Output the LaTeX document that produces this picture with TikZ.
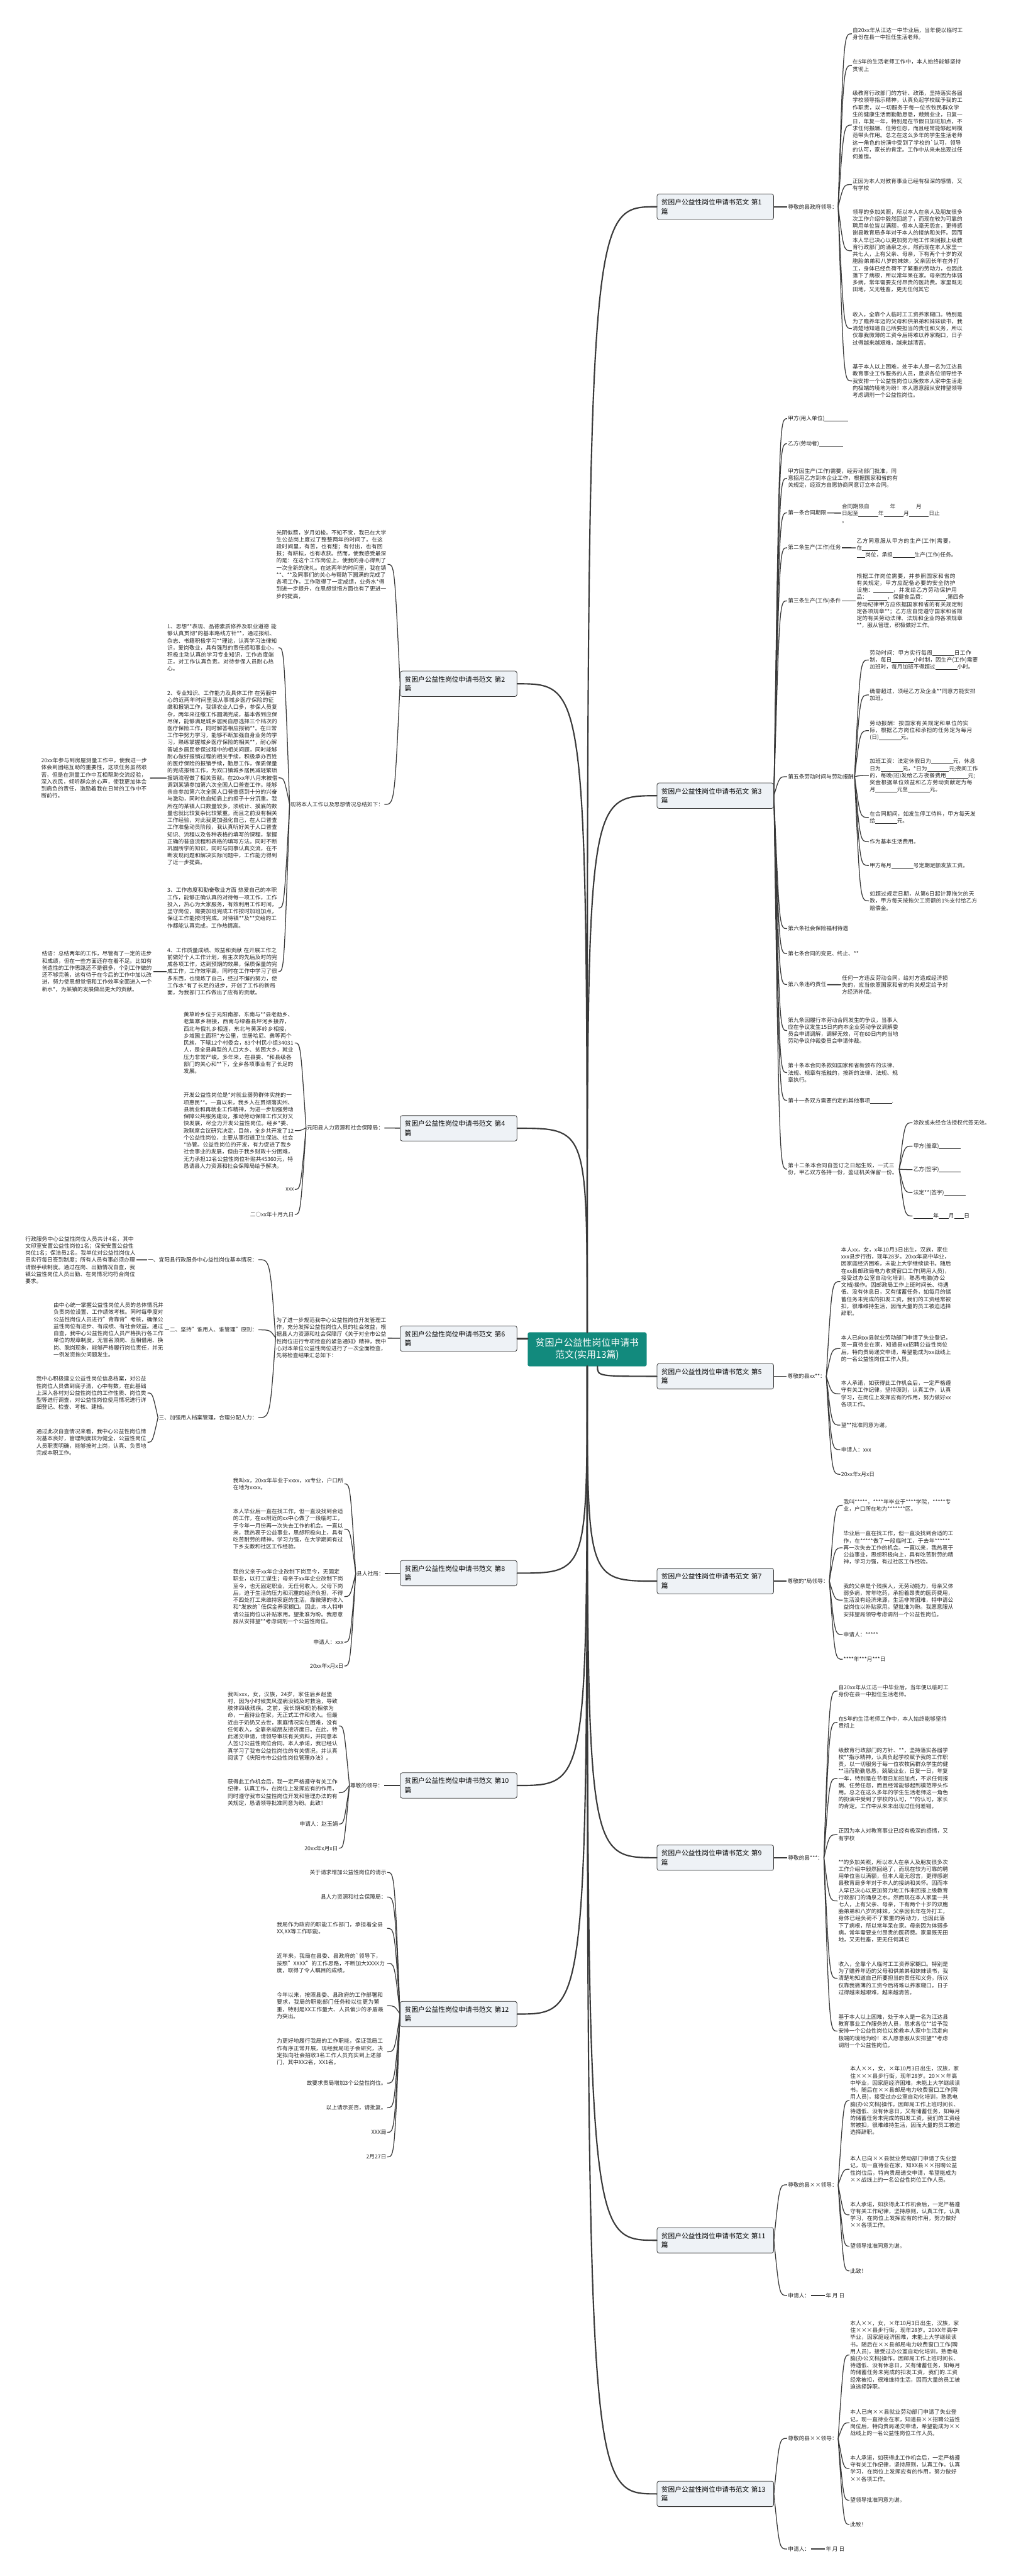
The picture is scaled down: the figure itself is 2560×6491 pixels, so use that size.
\documentclass[tikz,border=0pt]{standalone}
\usepackage{fontspec}
\setmainfont{Noto Sans CJK SC}
\XeTeXlinebreaklocale "zh"
\XeTeXlinebreakskip=0pt plus 1pt
\usetikzlibrary{calc}

\definecolor{rootteal}{HTML}{128A7D}
\definecolor{boxfill}{HTML}{EEF2F6}
\definecolor{linegray}{HTML}{3A3A3A}
\newcommand{\blankln}[1]{\rule[-1.5pt]{#1pt}{0.6pt}}

\begin{document}
\begin{tikzpicture}[x=1pt, y=-1pt,
    rootbox/.style={rectangle, rounded corners=4pt, fill=rootteal, draw=rootteal, text=white,
        font=\fontsize{23.7}{30}\selectfont, align=center, minimum width=299pt, minimum height=85pt},
    pianbox/.style={rectangle, rounded corners=5pt, fill=boxfill, draw=linegray, line width=1.3pt,
        font=\fontsize{17}{23}\selectfont, text width=272pt, align=left, minimum height=64pt, inner xsep=11pt},
    txt/.style={font=\fontsize{13.8}{17.8}\selectfont, inner sep=2pt, text=black!85},
    leaftxt/.style={txt, text width=278pt, align=left},
    trunk/.style={to path={.. controls (\tikztostart |- \tikztotarget) .. (\tikztotarget)}},
    rfan/.style={to path={.. controls ($(\tikztostart |- \tikztotarget)+(14,0)$) .. (\tikztotarget)}},
    lfan/.style={to path={.. controls ($(\tikztostart |- \tikztotarget)+(-14,0)$) .. (\tikztotarget)}}]

\useasboundingbox [fill=white] (0,0) rectangle (2560,6491);

\node (main) at (1480, 3400) [rootbox] {贫困户公益性岗位申请书\\范文(实用13篇)};
\coordinate (mainsr) at ($(main.south)+(26,0)$);

% ---------- right side ----------
\node (p1) at (1803, 521) [pianbox] {贫困户公益性岗位申请书范文 第1\\篇};
\node (p1t) at (1984, 521) [txt, anchor=west] {尊敬的县政府领导：};
\node (p1a) at (2147, 85) [leaftxt, anchor=west] {自20xx年从江达一中毕业后，当年便以临时工身份在县一中担任生活老师。};
\node (p1b) at (2147, 165) [leaftxt, anchor=west] {在5年的生活老师工作中，本人始终能够坚持贯彻上};
\node (p1c) at (2147, 315) [leaftxt, anchor=west] {级教育行政部门的方针、政策，坚持落实各届学校领导指示精神，认真负起学校赋予我的工作职责，以一切服务于每一位农牧民群众学生的健康生活而勤勤恳恳，兢兢业业，日复一日，年复一年，特别是在节假日加班加点，不求任何报酬、任劳任怨，而且经常能够起到模范带头作用。总之在这么多年的学生生活老师这一角色的扮演中受到了学校的\textasciigrave 认可，领导的认可，家长的肯定。工作中从来未出现过任何差错。};
\node (p1d) at (2147, 465) [leaftxt, anchor=west] {正因为本人对教育事业已经有极深的感情，又有学校};
\node (p1e) at (2147, 632) [leaftxt, anchor=west] {领导的多加关照，所以本人在亲人及朋友很多次工作介绍中毅然回绝了，而现在较为可靠的聘用单位皆以满额，但本人毫无怨言，更得感谢县教育局多年对于本人的接纳和关怀。因而本人早已决心以更加努力地工作来回报上级教育行政部门的涌泉之水。然而现在本人家里一共七人，上有父亲、母亲，下有两个十岁的双胞胎弟弟和八岁的妹妹，父亲因长年在外打工，身体已经负荷不了繁重的劳动力，也因此落下了病根，所以常年呆在家。母亲因为体弱多病，常年需要支付昂贵的医药费。家里既无田地，又无牲畜，更无任何其它};
\node (p1f) at (2147, 828) [leaftxt, anchor=west] {收入，全靠个人临时工工资养家糊口。特别是为了赡养年迈的父母和供弟弟和妹妹读书，我清楚地知道自己所要担当的责任和义务，所以仅靠我微薄的工资今后将难以养家糊口，日子过得越来越艰难，越来越清苦。};
\node (p1g) at (2147, 960) [leaftxt, anchor=west] {基于本人以上困难，处于本人是一名为江达县教育事业工作服务的人员，恳求各位领导给予我安排一个公益性岗位以挽救本人家中生活走向极端的境地为盼！本人愿意服从安排望领导考虑调剂一个公益性岗位。};

\node (p3) at (1803, 2005) [pianbox] {贫困户公益性岗位申请书范文 第3\\篇};
\node (p3a) at (1984, 1055) [txt, anchor=west] {甲方(用人单位)\blankln{60}};
\node (p3b) at (1984, 1118) [txt, anchor=west] {乙方(劳动者)\blankln{60}};
\node (p3c) at (1984, 1205) [leaftxt, anchor=west] {甲方因生产(工作)需要，经劳动部门批准，同意招用乙方到本企业工作，根据国家和省的有关规定，经双方自愿协商同意订立本合同。};
\node (p3d) at (1984, 1292) [txt, anchor=west] {第一条合同期限};
\node (p3d1) at (2120, 1294) [leaftxt, anchor=west] {合同期限自\hspace{52pt}年\hspace{52pt}月\\日起至\blankln{50}年\blankln{50}月\blankln{50}日止\\。};
\node (p3e) at (1984, 1380) [txt, anchor=west] {第二条生产(工作)任务};
\node (p3e1) at (2157, 1381) [leaftxt, anchor=west, text width=275pt] {乙方同意服从甲方的生产(工作)需要，在\blankln{40}\\\blankln{22}岗位，承担\blankln{55}生产(工作)任务。};
\node (p3f) at (1984, 1514) [txt, anchor=west] {第三条生产(工作)条件};
\node (p3f1) at (2157, 1514) [leaftxt, anchor=west, text width=275pt] {根据工作岗位需要，并参照国家和省的有关规定，甲方应配备必要的安全防护设施：\blankln{50}，并发给乙方劳动保护用品：\blankln{50}，保健食品费：\blankln{50}.第四条劳动纪律甲方应依据国家和省的有关规定制定各项规章**；乙方应自觉遵守国家和省规定的有关劳动法律、法规和企业的各项规章**，服从管理，积极做好工作。};
\node (p3g) at (1984, 1957) [txt, anchor=west] {第五条劳动时间与劳动报酬};
\node (p3g1) at (2190, 1663) [leaftxt, anchor=west, text width=275pt] {劳动时间：甲方实行每周\blankln{55}日工作制，每日\blankln{55}小时制，因生产(工作)需要加班时，每月加班不得超过\blankln{55}小时。};
\node (p3g2) at (2190, 1751) [leaftxt, anchor=west, text width=275pt] {确需超过，须经乙方及企业**同意方能安排加班。};
\node (p3g3) at (2190, 1841) [leaftxt, anchor=west, text width=275pt] {劳动报酬：按国家有关规定和单位的实际，根据乙方岗位和承担的任务定为每月(日)\blankln{55}元。};
\node (p3g4) at (2190, 1954) [leaftxt, anchor=west, text width=275pt] {加班工资：法定休假日为\blankln{55}元，休息日为\blankln{55}元，*日为\blankln{55}元;夜间工作的，每晚(班)发给乙方夜餐费用\blankln{55}元;奖金根据单位效益和乙方劳动贡献定为每月\blankln{55}元至\blankln{55}元。};
\node (p3g5) at (2190, 2060) [leaftxt, anchor=west, text width=275pt] {在合同期间，如发生停工待料，甲方每天发给\blankln{55}元。};
\node (p3g6) at (2190, 2121) [txt, anchor=west] {作为基本生活费用。};
\node (p3g7) at (2190, 2181) [txt, anchor=west] {甲方每月\blankln{55}号定期足额发放工资。};
\node (p3g8) at (2190, 2270) [leaftxt, anchor=west, text width=275pt] {如超过规定日期，从第6日起计算拖欠的天数，甲方每天按拖欠工资额的1\%支付给乙方赔偿金。};
\node (p3h) at (1984, 2340) [txt, anchor=west] {第六条社会保险福利待遇};
\node (p3i) at (1984, 2403) [txt, anchor=west] {第七条合同的变更、终止、**};
\node (p3j) at (1984, 2481) [txt, anchor=west] {第八条违约责任};
\node (p3j1) at (2120, 2482) [leaftxt, anchor=west, text width=275pt] {任何一方违反劳动合同，给对方造成经济损失的，应当依照国家和省的有关规定给予对方经济补偿。};
\node (p3k) at (1984, 2597) [leaftxt, anchor=west] {第九条因履行本劳动合同发生的争议，当事人应在争议发生15日内向本企业劳动争议调解委员会申请调解，调解无效，可在60日内向当地劳动争议仲裁委员会申请仲裁。};
\node (p3l) at (1984, 2703) [leaftxt, anchor=west] {第十条本合同条款如国家和省新颁布的法律、法规、规章有抵触的，按新的法律、法规、规章执行。};
\node (p3m) at (1984, 2773) [txt, anchor=west] {第十一条双方需要约定的其他事项\blankln{55}.};
\node (p3n) at (1984, 2946) [leaftxt, anchor=west] {第十二条本合同自签订之日起生效，一式三份，甲乙双方各持一份，鉴证机关保留一份。};
\node (p3n1) at (2300, 2829) [txt, anchor=west] {涂改或未经合法授权代签无效。};
\node (p3n2) at (2300, 2888) [txt, anchor=west] {甲方(盖章)\blankln{55}};
\node (p3n3) at (2300, 2947) [txt, anchor=west] {乙方(签字)\blankln{55}};
\node (p3n4) at (2300, 3005) [txt, anchor=west] {法定**(签字)\blankln{55}};
\node (p3n5) at (2300, 3064) [txt, anchor=west] {\blankln{50}年\blankln{25}月\blankln{25}日};

\node (p5) at (1803, 3468) [pianbox] {贫困户公益性岗位申请书范文 第5\\篇};
\node (p5t) at (1983, 3468) [txt, anchor=west] {尊敬的县xx**：};
\node (p5a) at (2118, 3229) [leaftxt, anchor=west] {本人xx，女，x年10月3日出生，汉族，家住xxx县步行街，现年28岁。20xx年高中毕业，因家庭经济困难，未能上大学继续读书。随后在xx县邮政局电力收费窗口工作(聘用人员)，接受过办公室自动化培训，熟悉电脑(办公文档)操作。因邮政局工作上班时间长、待遇低、没有休息日，又有储蓄任务，如每月的储蓄任务未完成的扣发工资，我们的工资经常被扣，很难维持生活，因而大量的员工被迫选择辞职。};
\node (p5b) at (2118, 3398) [leaftxt, anchor=west] {本人已向xx县就业劳动部门申请了失业登记，现一直待业在家，知道县xx招聘公益性岗位后，特向贵局递交申请，希望能成为xx战线上的一名公益性岗位工作人员。};
\node (p5c) at (2118, 3512) [leaftxt, anchor=west] {本人承诺，如获得此工作机会后，一定严格遵守有关工作纪律，坚持原则，认真工作，认真学习，在岗位上发挥应有的作用，努力做好xx各项工作。};
\node (p5d) at (2118, 3591) [txt, anchor=west] {望**批准同意为谢。};
\node (p5e) at (2118, 3653) [txt, anchor=west] {申请人：xxx};
\node (p5f) at (2118, 3715) [txt, anchor=west] {20xx年x月x日};

\node (p7) at (1803, 3984) [pianbox] {贫困户公益性岗位申请书范文 第7\\篇};
\node (p7t) at (1983, 3984) [txt, anchor=west] {尊敬的*局领导：};
\node (p7a) at (2124, 3793) [leaftxt, anchor=west] {我叫*****，****年毕业于****学院，*****专业，户口所在地为*******区。};
\node (p7b) at (2124, 3900) [leaftxt, anchor=west] {毕业后一直在找工作，但一直没找到合适的工作，在*****做了一段临时工，于去年******再一次失去工作的机会。一直以来，我热衷于公益事业，思想积极向上，具有吃苦耐劳的精神，学习力强，有过社区工作经验。};
\node (p7c) at (2124, 4032) [leaftxt, anchor=west] {我的父亲是个残疾人，无劳动能力，母亲又体弱多病，常年吃药，承担着昂贵的医药费用，生活没有经济来源，生活非常困难，特申请公益岗位以补贴家用。望批准为盼。我愿意服从安排望局领导考虑调剂一个公益性岗位。};
\node (p7d) at (2124, 4119) [txt, anchor=west] {申请人：*****};
\node (p7e) at (2124, 4181) [txt, anchor=west] {****年***月***日};

\node (p9) at (1803, 4681) [pianbox] {贫困户公益性岗位申请书范文 第9\\篇};
\node (p9t) at (1984, 4681) [txt, anchor=west] {尊敬的县***：};
\node (p9a) at (2111, 4261) [leaftxt, anchor=west] {自20xx年从江达一中毕业后，当年便以临时工身份在县一中担任生活老师。};
\node (p9b) at (2111, 4340) [leaftxt, anchor=west] {在5年的生活老师工作中，本人始终能够坚持贯彻上};
\node (p9c) at (2111, 4481) [leaftxt, anchor=west] {级教育行政部门的方针、**，坚持落实各届学校**指示精神，认真负起学校赋予我的工作职责，以一切服务于每一位农牧民群众学生的健**活而勤勤恳恳，兢兢业业，日复一日，年复一年，特别是在节假日加班加点，不求任何报酬、任劳任怨，而且经常能够起到模范带头作用。总之在这么多年的学生生活老师这一角色的扮演中受到了学校的认可，**的认可，家长的肯定。工作中从来未出现过任何差错。};
\node (p9d) at (2111, 4623) [leaftxt, anchor=west] {正因为本人对教育事业已经有极深的感情，又有学校};
\node (p9e) at (2111, 4790) [leaftxt, anchor=west] {**的多加关照，所以本人在亲人及朋友很多次工作介绍中毅然回绝了，而现在较为可靠的聘用单位皆以满额，但本人毫无怨言，更得感谢县教育局多年对于本人的接纳和关怀。因而本人早已决心以更加努力地工作来回报上级教育行政部门的涌泉之水。然而现在本人家里一共七人，上有父亲、母亲，下有两个十岁的双胞胎弟弟和八岁的妹妹，父亲因长年在外打工，身体已经负荷不了繁重的劳动力，也因此落下了病根，所以常年呆在家。母亲因为体弱多病，常年需要支付昂贵的医药费。家里既无田地，又无牲畜，更无任何其它};
\node (p9f) at (2111, 4985) [leaftxt, anchor=west] {收入，全靠个人临时工工资养家糊口。特别是为了赡养年迈的父母和供弟弟和妹妹读书，我清楚地知道自己所要担当的责任和义务，所以仅靠我微薄的工资今后将难以养家糊口，日子过得越来越艰难，越来越清苦。};
\node (p9g) at (2111, 5118) [leaftxt, anchor=west] {基于本人以上困难，处于本人是一名为江达县教育事业工作服务的人员，恳求各位**给予我安排一个公益性岗位以挽救本人家中生活走向极端的境地为盼！本人愿意服从安排望**考虑调剂一个公益性岗位。};

\node (p11) at (1803, 5645) [pianbox] {贫困户公益性岗位申请书范文 第11\\篇};
\node (p11t) at (1984, 5505) [txt, anchor=west] {尊敬的县××领导：};
\node (p11s) at (1984, 5784) [txt, anchor=west] {申请人：};
\node (p11d) at (2079, 5784) [txt, anchor=west] {年\ 月\ 日};
\node (p11a) at (2141, 5293) [leaftxt, anchor=west] {本人××，女，×年10月3日出生，汉族，家住×××县步行街，现年28岁。20××年高中毕业，因家庭经济困难，未能上大学继续读书。随后在××县邮局电力收费窗口工作(聘用人员)，接受过办公室自动化培训，熟悉电脑(办公文档)操作。因邮局工作上班时间长、待遇低、没有休息日，又有储蓄任务，如每月的储蓄任务未完成的扣发工资，我们的工资经常被扣，很难维持生活，因而大量的员工被迫选择辞职。};
\node (p11b) at (2141, 5466) [leaftxt, anchor=west] {本人已向××县就业劳动部门申请了失业登记，现一直待业在家，知XX县××招聘公益性岗位后，特向贵局递交申请，希望能成为××战线上的一名公益性岗位工作人员。};
\node (p11c) at (2141, 5581) [leaftxt, anchor=west] {本人承诺，如获得此工作机会后，一定严格遵守有关工作纪律，坚持原则，认真工作，认真学习，在岗位上发挥应有的作用，努力做好××各项工作。};
\node (p11e) at (2141, 5660) [txt, anchor=west] {望领导批准同意为谢。};
\node (p11f) at (2141, 5722) [txt, anchor=west] {此致！};

\node (p13) at (1803, 6284) [pianbox] {贫困户公益性岗位申请书范文 第13\\篇};
\node (p13t) at (1984, 6144) [txt, anchor=west] {尊敬的县××领导：};
\node (p13s) at (1984, 6423) [txt, anchor=west] {申请人：};
\node (p13d) at (2079, 6423) [txt, anchor=west] {年\ 月\ 日};
\node (p13a) at (2141, 5934) [leaftxt, anchor=west] {本人××，女，×年10月3日出生，汉族，家住×××县步行街，现年28岁。20XX年高中毕业，因家庭经济困难，未能上大学继续读书。随后在××县邮局电力收费窗口工作(聘用人员)，接受过办公室自动化培训，熟悉电脑(办公文档)操作。因邮局工作上班时间长、待遇低、没有休息日，又有储蓄任务，如每月的储蓄任务未完成的扣发工资，我们的.工资经常被扣，很难维持生活，因而大量的员工被迫选择辞职。};
\node (p13b) at (2141, 6105) [leaftxt, anchor=west] {本人已向××县就业劳动部门申请了失业登记，现一直待业在家，知道县××招聘公益性岗位后，特向贵局递交申请，希望能成为××战线上的一名公益性岗位工作人员。};
\node (p13c) at (2141, 6220) [leaftxt, anchor=west] {本人承诺，如获得此工作机会后，一定严格遵守有关工作纪律，坚持原则，认真工作，认真学习，在岗位上发挥应有的作用，努力做好××各项工作。};
\node (p13e) at (2141, 6300) [txt, anchor=west] {望领导批准同意为谢。};
\node (p13f) at (2141, 6361) [txt, anchor=west] {此致！};

% ---------- left side ----------
\node (p2) at (1156, 1723) [pianbox] {贫困户公益性岗位申请书范文 第2\\篇};
\node (p2a) at (977, 1422) [leaftxt, anchor=east] {光阴似箭，岁月如梭。不知不觉，我已在大学生公益岗上度过了整整两年的时间了。在这段时间里，有苦，也有甜；有付出，也有回报；有耕耘，也有收获。然而，使我感受最深的是：在这个工作岗位上，使我的身心得到了一次全新的洗礼。在这两年的时间里，我在镇**、**及同事们的关心与帮助下圆满的完成了各项工作，工作取得了一定成绩，业务水*得到进一步提升，在思想觉悟方面也有了更进一步的提高，};
\node (p2t) at (969, 2027) [txt, anchor=east] {现将本人工作以及思想情况总结如下：};
\node (p2t1) at (702, 1632) [leaftxt, anchor=east] {1、思想**表现、品德素质修养及职业道德 能够认真贯彻*的基本路线方针**，通过报纸、杂志、书籍积极学习**理论，认真学习法律知识，爱岗敬业，具有强烈的责任感和事业心，积极主动认真的学习专业知识，工作态度端正，对工作认真负责。对待参保人员耐心热心。};
\node (p2t2) at (702, 1960) [leaftxt, anchor=east] {2、专业知识、工作能力及具体工作 在劳服中心的近两年时间里我从事城乡医疗保险的征缴和报销工作，我镇农业人口多，参保人员复杂，两年来征缴工作圆满完成，基本做到应保尽保，能够满足城乡居民自愿选择三个档次的医疗保险工作，同时解答相应报销**。在日常工作中努力学习，能够不断加强自身业务的学习，熟练掌握城乡医疗保险的相关**，耐心解答城乡居民参保过程中的相关问题，同时能够耐心做好报销过程的相关手续，积极承办百姓的医疗保险的报销手续，勤恳工作，保质保量的完成报销工作，为双口镇城乡居民减轻繁琐报销流程做了相关贡献。在20xx年八月末被借调到某镇参加第六次全国人口普查工作。能够亲自参加第六次全国人口普查感到十分的兴奋与激动，同时也自知肩上的担子十分沉重。我所在的某镇人口数量较多，须统计、摸底的数量也就比较复杂比较繁重。而且之前没有相关工作经验，对此我更加强化自己，在人口普查工作准备动员阶段，我认真听好关于人口普查知识、流程以及各种表格的填写的课程，掌握正确的普查流程和表格的填写方法。同时不断巩固所学的知识，同时与同事认真交流，在不断发现问题和解决实际问题中，工作能力得到了近一步提高。};
\node (p2t2a) at (378, 1961) [leaftxt, anchor=east, text width=272pt] {20xx年参与到房屋测量工作中，使我进一步体会到团结互助的重要性，这项任务虽然艰苦，但是在测量工作中互相帮助交流经验，深入农民，倾听群众的心声，使我更加体会到肩负的责任，激励着我在日常的工作中不断前行。};
\node (p2t3) at (702, 2288) [leaftxt, anchor=east] {3、工作态度和勤奋敬业方面 热爱自己的本职工作，能够正确认真的对待每一项工作，工作投入，热心为大家服务，有效利用工作时间，坚守岗位，需要加班完成工作按时加班加点，保证工作能按时完成。对待镇**及**交给的工作都能认真完成，工作热情高。};
\node (p2t4) at (702, 2448) [leaftxt, anchor=east] {4、工作质量成绩、效益和贡献 在开展工作之前做好个人工作计划，有主次的先后及时的完成各项工作，达到预期的效果，保质保量的完成工作，工作效率高，同时在工作中学习了很多东西，也锻炼了自己，经过不懈的努力，使工作水*有了长足的进步，开创了工作的新局面，为我部门工作做出了应有的贡献。};
\node (p2t4a) at (386, 2448) [leaftxt, anchor=east] {结语：总结两年的工作，尽管有了一定的进步和成绩，但在一些方面还存在着不足。比如有创造性的工作思路还不是很多，个别工作做的还不够完善，这有待于在今后的工作中加以改进，努力使思想觉悟和工作效率全面进入一个新水*，为某镇的发展做出更大的贡献。};

\node (p4) at (1156, 2843) [pianbox] {贫困户公益性岗位申请书范文 第4\\篇};
\node (p4t) at (969, 2842) [txt, anchor=east] {元阳县人力资源和社会保障局：};
\node (p4a) at (743, 2628) [leaftxt, anchor=east] {黄草岭乡位于元阳南部，东南与**县老勐乡、老集寨乡相接，西南与绿春县坪河乡接界，西北与俄扎乡相连，东北与黄茅岭乡相接，乡域国土面积*方公里，世居哈尼、彝等两个民族，下辖12个村委会，83个村民小组34031人，是全县典型的人口大乡、贫困大乡，就业压力非常严峻。多年来，在县委、*和县级各部门的关心和**下，全乡各项事业有了长足的发展。};
\node (p4b) at (743, 2849) [leaftxt, anchor=east] {开发公益性岗位是*对就业弱势群体实施的一项惠民**。一直以来，我乡人在贯彻落实州、县就业和再就业工作精神，为进一步加强劳动保障公共服务建设，推动劳动保障工作又好又快发展，尽全力开发公益性岗位。经乡*委、政联席会议研究决定，目前，全乡共开发了12个公益性岗位，主要从事街道卫生保洁、社会*协管。公益性岗位的开发，有力促进了我乡社会事业的发展，但由于我乡财政十分困难，无力承担12名公益性岗位补贴共45360元，特恳请县人力资源和社会保障局给予解决。};
\node (p4c) at (743, 2997) [txt, anchor=east] {xxx};
\node (p4d) at (743, 3060) [txt, anchor=east] {二○xx年十月九日};

\node (p6) at (1156, 3373) [pianbox] {贫困户公益性岗位申请书范文 第6\\篇};
\node (p6t) at (977, 3371) [leaftxt, anchor=east] {为了进一步规范我中心公益性岗位开发管理工作，充分发挥公益性岗位人员的社会效益，根据县人力资源和社会保障厅《关于对全市公益性岗位进行专项检查的紧急通知》精神，我中心对本单位公益性岗位进行了一次全面检查，先将检查结果汇总如下：};
\node (p6t1) at (651, 3174) [txt, anchor=east] {一、宜阳县行政服务中心益性岗位基本情况：};
\node (p6t1a) at (344, 3175) [leaftxt, anchor=east] {行政服务中心公益性岗位人员共计4名，其中文印室安置公益性岗位1名；保安安置公益性岗位1名；保洁员2名。我单位对公益性岗位人员实行每日签到制度；所有人员有事必须办理请假手续制度。通过在岗、出勤情况自查，我镇公益性岗位人员出勤、在岗情况均符合岗位要求。};
\node (p6t2) at (651, 3351) [txt, anchor=east] {二、坚持"谁用人、谁管理"原则：};
\node (p6t2a) at (415, 3351) [leaftxt, anchor=east] {由中心统一掌握公益性岗位人员的总体情况并负责岗位设置、工作绩效考核。同时每季度对公益性岗位人员进行"背靠背"考核，确保公益性岗位有进步、有成绩、有社会效益。通过自查，我中心公益性岗位人员严格执行各工作单位的规章制度，无冒名顶岗、互相借用、换岗、脱岗现象，能够严格履行岗位责任，并无一例发资拖欠问题发生。};
\node (p6t3) at (651, 3572) [txt, anchor=east] {三、加强用人档案管理，合理分配人力：};
\node (p6t3a) at (372, 3510) [leaftxt, anchor=east] {我中心积极建立公益性岗位信息档案，对公益性岗位人员做到底子清，心中有数，在此基础上深入各村对公益性岗位的工作性质、岗位类型等进行调查，对公益性岗位使用情况进行详细登记、检查、考核、建档。};
\node (p6t3b) at (372, 3634) [leaftxt, anchor=east] {通过此次自查情况来看，我中心公益性岗位情况基本良好，管理制度较为健全，公益性岗位人员职责明确，能够按时上岗，认真、负责地完成本职工作。};

\node (p8) at (1156, 3964) [pianbox] {贫困户公益性岗位申请书范文 第8\\篇};
\node (p8t) at (970, 3965) [txt, anchor=east] {县人社局：};
\node (p8a) at (868, 3739) [leaftxt, anchor=east] {我叫xx，20xx年毕业于xxxx，xx专业，户口所在地为xxxx。};
\node (p8b) at (868, 3853) [leaftxt, anchor=east] {本人毕业后一直在找工作，但一直没找到合适的工作，在xx附近的xx中心做了一段临时工，于今年一月份再一次失去工作的机会。一直以来，我热衷于公益事业，思想积极向上，具有吃苦耐劳的精神，学习力强，在大学期间有过下乡支教和社区工作经验。};
\node (p8c) at (868, 4023) [leaftxt, anchor=east] {我的父亲于xx年企业改制下岗至今，无固定职业，以打工谋生；母亲于xx年企业改制下岗至今，也无固定职业，无任何收入。父母下岗后，迫于生活的压力和沉重的经济负担，不得不四处打工来维持家庭的生活，靠微薄的收入和*发放的\textasciigrave 低保金养家糊口。因此，本人特申请公益岗位以补贴家用。望批准为盼。我愿意服从安排望**考虑调剂一个公益性岗位。};
\node (p8d) at (868, 4138) [txt, anchor=east] {申请人：xxx};
\node (p8e) at (868, 4198) [txt, anchor=east] {20xx年x月x日};

\node (p10) at (1156, 4499) [pianbox] {贫困户公益性岗位申请书范文 第10\\篇};
\node (p10t) at (968, 4499) [txt, anchor=east] {尊敬的领导：};
\node (p10a) at (854, 4349) [leaftxt, anchor=east] {我叫xxx，女，汉族，24岁，家住后乡赵堡村，因为小时候类风湿病没钱及时救治，导致肢体四级残疾。之前，我长期和奶奶相依为命，一直待业在家，无正式工作和收入。但最近由于奶奶又去世，家庭情况实在困难，没有任何收入，全靠亲戚朋友接济度日。在此，特此递交申请，请领导审核有关资料，并同意本人签订公益性岗位合同。本人承诺，我已经认真学习了我市公益性岗位的有关情况，并认真阅读了《庆阳市市公益性岗位管理办法》。};
\node (p10b) at (854, 4517) [leaftxt, anchor=east] {获得此工作机会后，我一定严格遵守有关工作纪律，认真工作，在岗位上发挥应有的作用，同时遵守我市公益性岗位开发和管理办法的有关规定，恳请领导批准同意为盼。此致！};
\node (p10c) at (854, 4596) [txt, anchor=east] {申请人：赵玉娟};
\node (p10d) at (854, 4657) [txt, anchor=east] {20xx年x月x日};

\node (p12) at (1156, 5075) [pianbox] {贫困户公益性岗位申请书范文 第12\\篇};
\node (p12a) at (976, 4718) [txt, anchor=east] {关于请求增加公益性岗位的请示};
\node (p12b) at (976, 4780) [txt, anchor=east] {县人力资源和社会保障局：};
\node (p12c) at (976, 4859) [leaftxt, anchor=east, text width=276pt] {我局作为政府的职能工作部门，承担着全县XX,XX等工作职能。};
\node (p12d) at (976, 4947) [leaftxt, anchor=east, text width=276pt] {近年来，我局在县委、县政府的\textasciigrave 领导下，按照"XXXX"的工作思路，不断加大XXXX力度，取得了令人瞩目的成绩。};
\node (p12e) at (976, 5054) [leaftxt, anchor=east, text width=276pt] {今年以来，按照县委、县政府的工作部署和要求，我局的职能部门任务较以往更为繁重，特别是XX工作量大、人员偏少的矛盾最为突出。};
\node (p12f) at (976, 5170) [leaftxt, anchor=east, text width=276pt] {为更好地履行我局的工作职能，保证我局工作有序正常开展，现经我局班子会研究，决定拟向社会招收3名工作人员充实到上述部门，其中XX2名，XX1名。};
\node (p12g) at (976, 5249) [txt, anchor=east] {故要求贵局增加3个公益性岗位。};
\node (p12h) at (976, 5311) [txt, anchor=east] {以上请示妥否，请批复。};
\node (p12i) at (976, 5373) [txt, anchor=east] {XXX局};
\node (p12j) at (976, 5435) [txt, anchor=east] {2月27日};

% ---------- connectors ----------
\begin{scope}[every edge/.style={draw=linegray, line width=3.4pt, line cap=round}]
    \path (main.north) edge[trunk] (p1.west);
    \path (main.north) edge[trunk] (p3.west);
    \path (mainsr) edge[trunk] (p5.west);
    \path (main.south) edge[trunk] (p7.west);
    \path (main.south) edge[trunk] (p9.west);
    \path (main.south) edge[trunk] (p11.west);
    \path (main.south) edge[trunk] (p13.west);
    \path (main.north) edge[trunk] (p2.east);
    \path (main.north) edge[trunk] (p4.east);
    \path (p6.east) edge (p6.east -| main.west);
    \path (main.south) edge[trunk] (p8.east);
    \path (main.south) edge[trunk] (p10.east);
    \path (main.south) edge[trunk] (p12.east);
\end{scope}

\begin{scope}[every edge/.style={draw=linegray, line width=2.6pt}]
    \path (p1) edge (p1t);
    \path (p5) edge (p5t);
    \path (p7) edge (p7t);
    \path (p9) edge (p9t);
    \path (p4) edge (p4t);
    \path (p8) edge (p8t);
    \path (p10) edge (p10t);
    \path (p11s) edge (p11d);
    \path (p13s) edge (p13d);
    \path (p3d) edge (p3d1);
    \path (p3e) edge (p3e1);
    \path (p3f) edge (p3f1);
    \path (p3j) edge (p3j1);
    \path (p2t2) edge (p2t2a);
    \path (p2t4) edge (p2t4a);
    \path (p6t1) edge (p6t1a);
    \path (p6t2) edge (p6t2a);
    \path (p6) edge (p6t);
\end{scope}

\begin{scope}[every edge/.style={draw=linegray, line width=2pt}]
    \foreach \n in {a,b,c,d,e,f,g} \path (p1t.east) edge[rfan] (p1\n.west);
    \foreach \n in {a,b,c,d,e,f,g,h,i,j,k,l,m,n} \path (p3.east) edge[rfan] (p3\n.west);
    \foreach \n in {1,...,8} \path (p3g.east) edge[rfan] (p3g\n.west);
    \foreach \n in {1,...,5} \path (p3n.east) edge[rfan] (p3n\n.west);
    \foreach \n in {a,b,c,d,e,f} \path (p5t.east) edge[rfan] (p5\n.west);
    \foreach \n in {a,b,c,d,e} \path (p7t.east) edge[rfan] (p7\n.west);
    \foreach \n in {a,b,c,d,e,f,g} \path (p9t.east) edge[rfan] (p9\n.west);
    \foreach \n in {t,s} \path (p11.east) edge[rfan] (p11\n.west);
    \foreach \n in {a,b,c,e,f} \path (p11t.east) edge[rfan] (p11\n.west);
    \foreach \n in {t,s} \path (p13.east) edge[rfan] (p13\n.west);
    \foreach \n in {a,b,c,e,f} \path (p13t.east) edge[rfan] (p13\n.west);
    % left side
    \foreach \n in {a,t} \path (p2.west) edge[lfan] (p2\n.east);
    \foreach \n in {1,...,4} \path (p2t.west) edge[lfan] (p2t\n.east);
    \foreach \n in {a,b,c,d} \path (p4t.west) edge[lfan] (p4\n.east);
    \foreach \n in {1,2,3} \path (p6t.west) edge[lfan] (p6t\n.east);
    \foreach \n in {a,b} \path (p6t3.west) edge[lfan] (p6t3\n.east);
    \foreach \n in {a,b,c,d,e} \path (p8t.west) edge[lfan] (p8\n.east);
    \foreach \n in {a,b,c,d} \path (p10t.west) edge[lfan] (p10\n.east);
    \foreach \n in {a,b,c,d,e,f,g,h,i,j} \path (p12.west) edge[lfan] (p12\n.east);
\end{scope}
\end{tikzpicture}
\end{document}
